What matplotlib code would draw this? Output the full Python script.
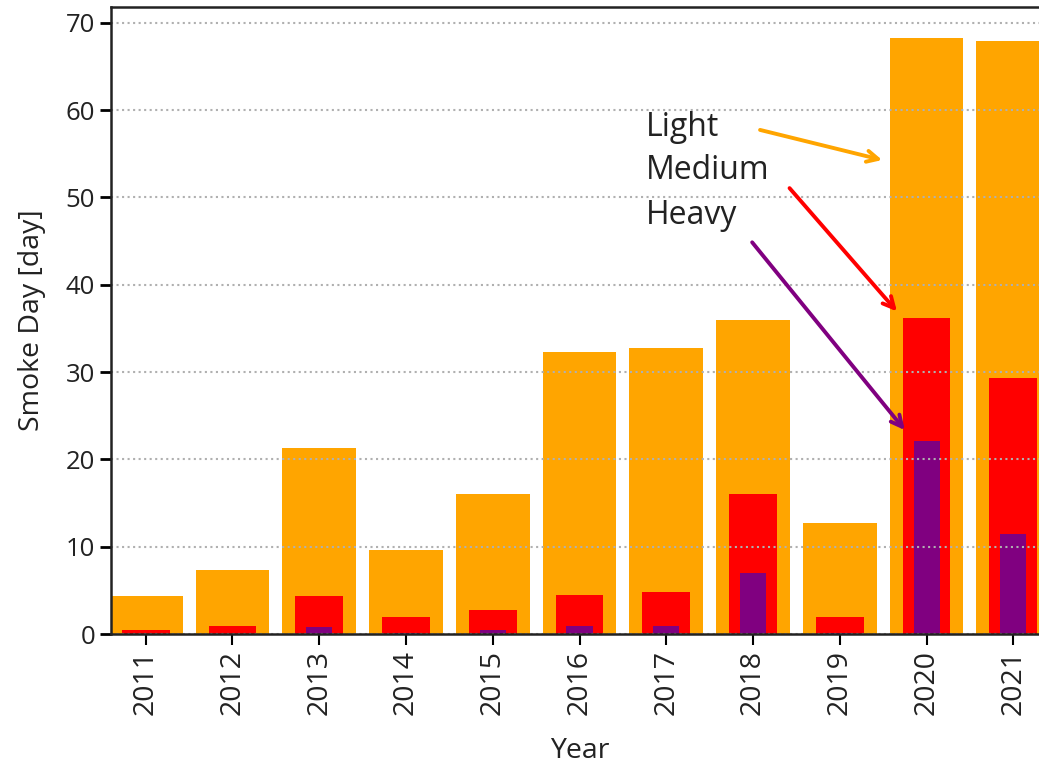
import matplotlib
matplotlib.use("Agg")
import matplotlib.pyplot as plt
import numpy as np

years = ["2011", "2012", "2013", "2014", "2015", "2016", "2017", "2018", "2019", "2020", "2021"]
light = [4.3, 7.3, 21.3, 9.6, 16.0, 32.3, 32.8, 36.0, 12.7, 68.3, 67.9]
medium = [0.5, 0.9, 4.3, 1.9, 2.7, 4.5, 4.8, 16.0, 1.9, 36.2, 29.3]
heavy = [0.0, 0.0, 0.8, 0.1, 0.5, 0.9, 0.9, 7.0, 0.1, 22.1, 11.5]

plt.rcParams['font.family'] = ['Open Sans', 'DejaVu Sans']

fig = plt.figure(figsize=(10.39, 7.67), dpi=100)
ax = fig.add_axes([111/1039, 1-634/767, (1048-111)/1039, (634-7)/767])

x = np.arange(len(years))
ax.bar(x, light, width=0.85, color='#FFA500')
ax.bar(x, medium, width=0.55, color='#FF0000')
ax.bar(x, heavy, width=0.30, color='#800080')

ax.set_xlim(-0.4, 10.4)
ax.set_ylim(0, 71.8)
ax.set_xticks(x)
ax.set_xticklabels(years, rotation=90, fontsize=20.5, color='#222222')
ax.set_yticks(range(0, 71, 10))
ax.tick_params(axis='y', labelsize=18.5, labelcolor='#222222', length=8, width=2, direction='out')
ax.tick_params(axis='x', length=8, width=1.5, direction='out')
ax.yaxis.grid(True, linestyle=':', color='#b0b0b0', linewidth=1.5)
for s in ['left', 'bottom', 'top']:
    ax.spines[s].set_linewidth(1.8)
    ax.spines[s].set_color('#222222')
ax.spines['right'].set_visible(False)

ax.set_xlabel('Year', fontsize=20.5, color='#222222', labelpad=16)
ax.set_ylabel('Smoke Day [day]', fontsize=20.5, color='#222222', labelpad=14)

tx = 5.76
ax.text(tx, 58.0, 'Light', fontsize=23, color='#222222', va='center', ha='left')
ax.text(tx, 53.1, 'Medium', fontsize=23, color='#222222', va='center', ha='left')
ax.text(tx, 47.9, 'Heavy', fontsize=23, color='#222222', va='center', ha='left')

arr = dict(arrowstyle='->,head_length=0.8,head_width=0.4', lw=2.8)
ax.annotate('', xy=(8.52, 54.2), xytext=(7.05, 57.8),
            arrowprops=dict(color='#FFA500', **arr))
ax.annotate('', xy=(8.68, 36.7), xytext=(7.40, 51.3),
            arrowprops=dict(color='#FF0000', **arr))
ax.annotate('', xy=(8.77, 23.1), xytext=(6.97, 45.1),
            arrowprops=dict(color='#800080', **arr))

fig.savefig('out.png', dpi=100)
